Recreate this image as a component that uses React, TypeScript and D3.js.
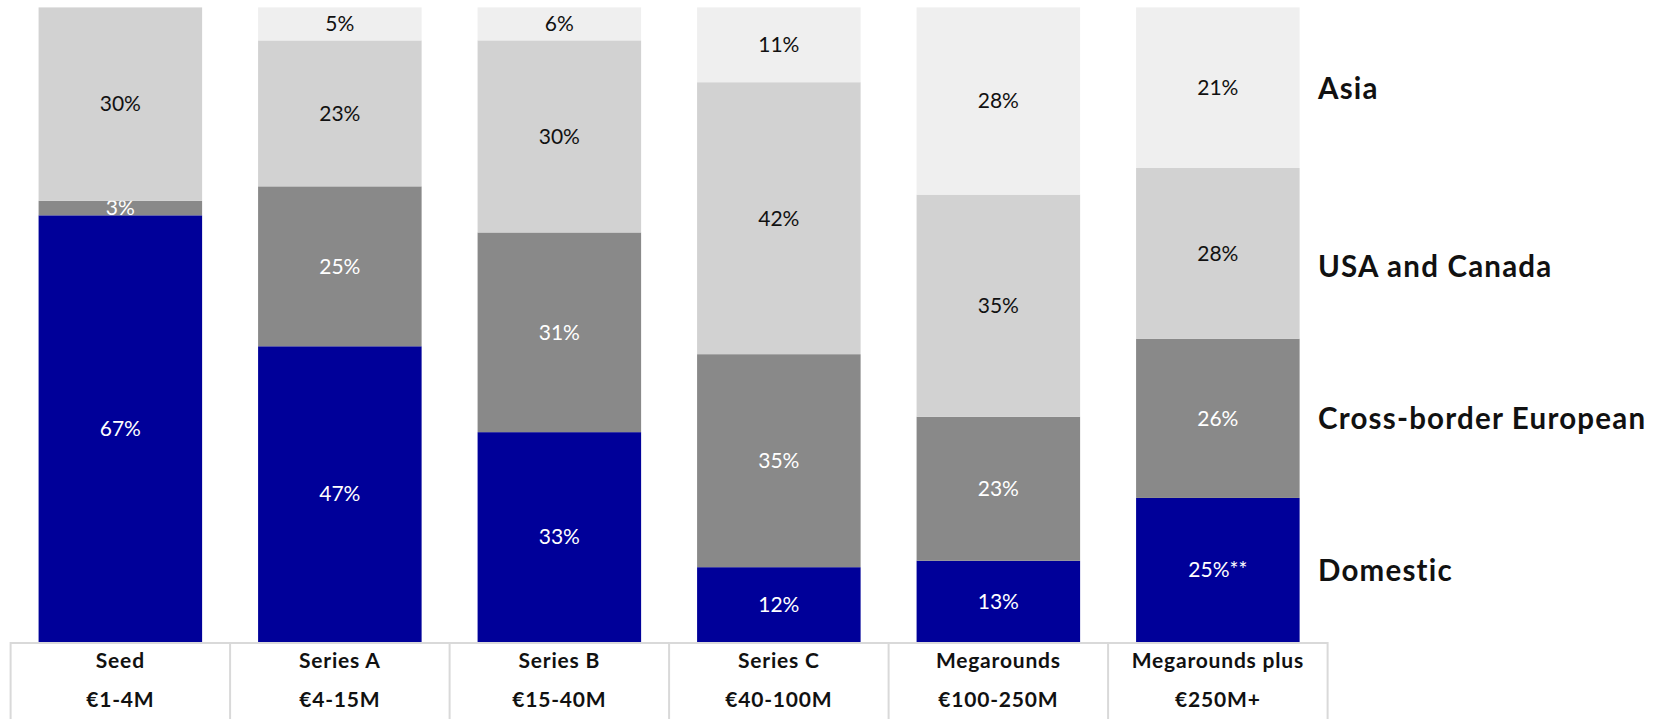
import React from "react";
import * as d3 from "d3";

const categories = ["Seed", "Series A", "Series B", "Series C", "Megarounds", "Megarounds plus"];
const ranges = ["€1-4M", "€4-15M", "€15-40M", "€40-100M", "€100-250M", "€250M+"];
const seriesKeys = ["Domestic", "Cross-border European", "USA and Canada", "Asia"];

// segment shares as drawn in the picture (%)
const domestic = [67.1, 46.6, 33.1, 11.8, 12.8, 22.7];
const crossBorder = [2.3, 25.2, 31.5, 33.6, 22.7, 25.1];
const usaCanada = [30.4, 23.0, 30.3, 42.9, 35.0, 26.9];
const asia = [0, 5.2, 5.2, 11.8, 29.5, 25.3];

// labels printed on the segments
const domesticLabels = ["67%", "47%", "33%", "12%", "13%", "25%**"];
const crossBorderLabels = ["3%", "25%", "31%", "35%", "23%", "26%"];
const usaCanadaLabels = ["30%", "23%", "30%", "42%", "35%", "28%"];
const asiaLabels = ["", "5%", "6%", "11%", "28%", "21%"];

const colors = ["#000099", "#898989", "#d2d2d2", "#efefef"];
const textColors = ["#ffffff", "#ffffff", "#111111", "#111111"];

const W = 1664;
const H = 719;
const tableLeft = 10.6;
const tableRight = 1327.6;
const plotTop = 7.4;
const plotBottom = 642;
const legendX = 1318;
const legendY = [571, 419, 267, 89];

export default function App() {
  const rows = categories.map((c, i) => ({
    cat: c,
    "Domestic": domestic[i],
    "Cross-border European": crossBorder[i],
    "USA and Canada": usaCanada[i],
    "Asia": asia[i],
  }));
  const stack = d3.stack<any>().keys(seriesKeys).offset(d3.stackOffsetExpand);
  const layers = stack(rows);

  const cell = d3.scaleBand<string>().domain(categories).range([tableLeft, tableRight]).padding(0);
  const x = d3.scaleBand<string>().domain(categories).range([tableLeft, tableRight]).paddingInner(0.255).paddingOuter(0.1275);
  const y = d3.scaleLinear().domain([0, 1]).range([plotBottom, plotTop]);
  const raw = [domestic, crossBorder, usaCanada, asia];
  const labels = [domesticLabels, crossBorderLabels, usaCanadaLabels, asiaLabels];

  const font = "Lato, 'Source Sans Pro', sans-serif";

  return (
    <div style={{ position: "absolute", left: 0, top: 0 }}>
      <svg width={W} height={H} style={{ display: "block", background: "#fff" }}>
        {layers.map((layer, si) => (
          <g key={seriesKeys[si]}>
            {layer.map((d, i) => {
              const v = raw[si][i];
              if (v <= 0) return null;
              const y0 = y(d[1]);
              const y1 = y(d[0]);
              return (
                <g key={i}>
                  <rect x={x(categories[i])!} y={y0} width={x.bandwidth()} height={y1 - y0} fill={colors[si]} />
                  <text
                    x={x(categories[i])! + x.bandwidth() / 2}
                    y={(y0 + y1) / 2}
                    dy="0.35em"
                    textAnchor="middle"
                    fontFamily={font}
                    fontSize={21}
                    fill={textColors[si]}
                  >
                    {labels[si][i]}
                  </text>
                </g>
              );
            })}
          </g>
        ))}
        {/* table */}
        <g>
          <line x1={tableLeft} x2={tableRight} y1={plotBottom + 1} y2={plotBottom + 1} stroke="#d9d9d9" strokeWidth={2} />
          {[...categories.map((c) => cell(c)!), tableRight].map((xx, i) => (
            <line key={i} x1={xx} x2={xx} y1={plotBottom} y2={H} stroke="#d9d9d9" strokeWidth={2} />
          ))}
          {categories.map((c, i) => (
            <g key={c}>
              <text x={cell(c)! + cell.bandwidth() / 2} y={661} dy="0.35em" textAnchor="middle" fontFamily={font} fontWeight={700} fontSize={21} letterSpacing={0.8} fill="#111">
                {c}
              </text>
              <text x={cell(c)! + cell.bandwidth() / 2} y={700} dy="0.35em" textAnchor="middle" fontFamily={font} fontWeight={700} fontSize={21} letterSpacing={0.8} fill="#111">
                {ranges[i]}
              </text>
            </g>
          ))}
        </g>
        {/* legend */}
        {seriesKeys.map((k, i) => (
          <text key={k} x={legendX} y={legendY[i]} dy="0.35em" fontFamily={font} fontWeight={700} fontSize={29.5} letterSpacing={1.2} fill="#111">
            {k}
          </text>
        ))}
      </svg>
    </div>
  );
}
